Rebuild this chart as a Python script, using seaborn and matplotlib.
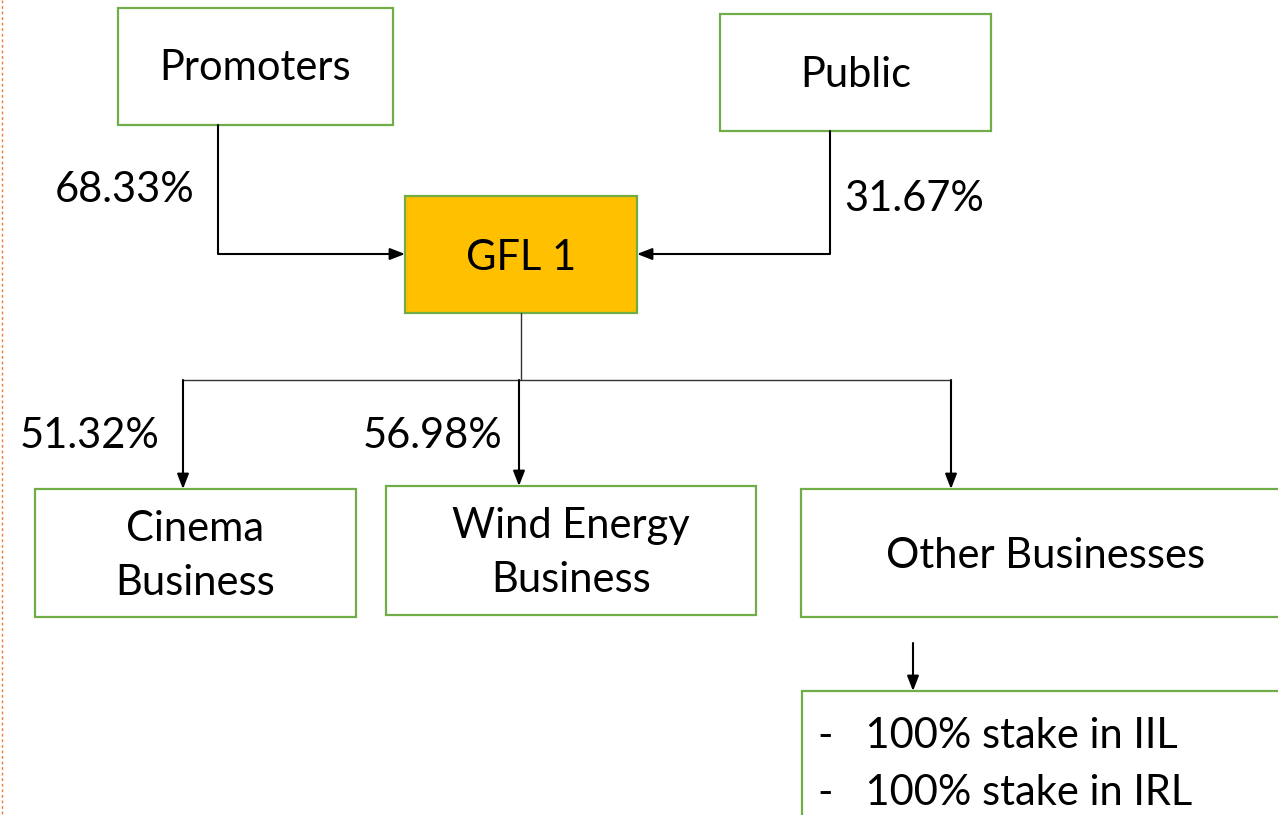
import seaborn as sns
import matplotlib.pyplot as plt
from matplotlib.patches import Rectangle

# Ownership structure data
owners = ['Promoters', 'Public']
owner_stakes = ['68.33%', '31.67%']
company = 'GFL 1'
businesses = ['Cinema\nBusiness', 'Wind Energy\nBusiness', 'Other Businesses']
business_stakes = ['51.32%', '56.98%', '']
holdings = ['-   100% stake in IIL', '-   100% stake in IRL']

sns.set_style('white')
plt.rcParams['font.family'] = ['Lato', 'DejaVu Sans']

GREEN = '#70AD47'
GOLD = '#FFC000'
FS = 30

fig = plt.figure(figsize=(12.78, 8.15), dpi=100)
ax = fig.add_axes([0, 0, 1, 1])
ax.set_xlim(0, 1278)
ax.set_ylim(815, 0)
ax.axis('off')


def box(x0, y0, x1, y1, text, fill='white', ty=None):
    ax.add_patch(Rectangle((x0, y0), x1 - x0, y1 - y0, facecolor=fill,
                           edgecolor=GREEN, linewidth=1.6))
    if text:
        ax.text((x0 + x1) / 2, ty if ty else (y0 + y1) / 2, text,
                ha='center', va='center', fontsize=FS, linespacing=1.5,
                color='black')


def arrow(x0, y0, x1, y1):
    ax.annotate('', xy=(x1, y1), xytext=(x0, y0),
                arrowprops=dict(arrowstyle='-|>,head_length=0.9,head_width=0.35',
                                color='black', lw=1.5, shrinkA=0, shrinkB=0))


def label(x, y, text, ha='center'):
    ax.text(x, y, text, ha=ha, va='center', fontsize=FS, color='black')


# owner boxes
box(118, 8, 393, 125, owners[0], ty=68)
box(720, 14, 991, 131, owners[1], ty=75)
box(405, 196, 637, 313, company, fill=GOLD, ty=258)

# owner lines
ax.plot([218, 218, 380], [125, 254, 254], color='black', lw=1.5)
arrow(380, 254, 405, 254)
ax.plot([830, 830, 662], [131, 254, 254], color='black', lw=1.5)
arrow(662, 254, 637, 254)
label(125, 190, owner_stakes[0])
label(914, 199, owner_stakes[1])

# company to businesses
ax.plot([521, 521], [313, 380], color='#333333', lw=1.0)
ax.plot([183, 951], [380, 380], color='#333333', lw=1.0)
arrow(183, 380, 183, 489)
arrow(519, 380, 519, 486)
arrow(951, 380, 951, 489)

box(35, 489, 356, 617, businesses[0], ty=556)
box(386, 486, 756, 615, businesses[1], ty=553)
box(801, 489, 1290, 617, businesses[2], ty=556)
label(90, 436, business_stakes[0])
label(433, 436, business_stakes[1])

# other holdings
arrow(913, 643, 913, 691)
box(802, 691, 1290, 830, '')
for i, h in enumerate(holdings):
    label(818, 736 + i * 57, h, ha='left')

# dotted left border
ax.plot([2, 2], [0, 815], color='#ED7D31', lw=1.0, linestyle=(0, (2, 2)))

fig.savefig('out.png', dpi=100)
